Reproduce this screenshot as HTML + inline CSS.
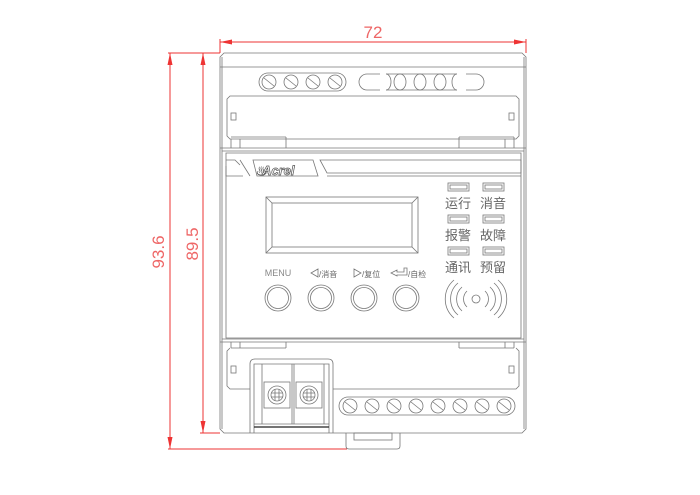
<!DOCTYPE html>
<html><head><meta charset="utf-8"><style>
html,body{margin:0;padding:0;background:#fff;width:700px;height:495px;overflow:hidden}
svg{display:block}
</style></head><body>
<svg width="700" height="495" viewBox="0 0 700 495" xmlns="http://www.w3.org/2000/svg" font-family="Liberation Sans, Noto Sans CJK SC, sans-serif">
<g stroke="#e33" stroke-width="1" fill="none">
  <line x1="220" y1="42" x2="526" y2="42"/>
  <line x1="220" y1="39" x2="220" y2="53"/>
  <line x1="526" y1="39" x2="526" y2="53"/>
  <line x1="168" y1="53" x2="220" y2="53"/>
  <line x1="168" y1="449" x2="347" y2="449"/>
  <line x1="200" y1="433" x2="220" y2="433"/>
  <line x1="170" y1="53" x2="170" y2="449"/>
  <line x1="203" y1="53" x2="203" y2="433"/>
</g>
<g fill="#e33">
  <polygon points="220,42 232,39.5 232,44.5"/>
  <polygon points="526,42 514,39.5 514,44.5"/>
  <polygon points="170,53 167.5,65 172.5,65"/>
  <polygon points="170,449 167.5,437 172.5,437"/>
  <polygon points="203,53 200.5,65 205.5,65"/>
  <polygon points="203,433 200.5,421 205.5,421"/>
</g>
<text x="373" y="38" fill="#e66" font-size="17" text-anchor="middle">72</text>
<text transform="translate(164,252) rotate(-90)" fill="#e66" font-size="17" text-anchor="middle">93.6</text>
<text transform="translate(198,244) rotate(-90)" fill="#e66" font-size="17" text-anchor="middle">89.5</text>

<g stroke="#777" stroke-width="0.8" fill="none">
  <path d="M224,53 H522 L526,57 V429 L522,433 H224 L220,429 V57 Z"/>
  <line x1="220" y1="67" x2="526" y2="67"/>
  <line x1="222" y1="57" x2="222" y2="429"/>
  <line x1="524" y1="57" x2="524" y2="429"/>
  <rect x="259" y="73" width="87" height="18" rx="9"/>
  <g>
    <circle cx="269" cy="82" r="7"/><line x1="264" y1="78" x2="274" y2="86"/>
    <circle cx="291" cy="82" r="7"/><line x1="286" y1="78" x2="296" y2="86"/>
    <circle cx="313" cy="82" r="7"/><line x1="308" y1="78" x2="318" y2="86"/>
    <circle cx="335" cy="82" r="7"/><line x1="330" y1="78" x2="340" y2="86"/>
  </g>
  <path d="M380,74 H367 A8,8 0 0 0 367,90 H380"/>
  <path d="M386,74 H457 M386,90 H457"/>
  <path d="M386,74 a5,8 0 0 1 0,16 M400,74 a6,8 0 0 0 0,16 M400,74 a6,8 0 0 1 0,16 M420,74 a6,8 0 0 0 0,16 M420,74 a6,8 0 0 1 0,16 M440,74 a6,8 0 0 0 0,16 M440,74 a6,8 0 0 1 0,16 M457,74 a5,8 0 0 0 0,16"/>
  <path d="M466,74 H476 A8,8 0 0 1 476,90 H466"/>
  <path d="M230,96 H516 L519,99 V136 L516,139 H230 L227,136 V99 Z"/>
  <rect x="231" y="113" width="5" height="7"/><rect x="509" y="113" width="5" height="7"/>
  <path d="M231,139 V148 M240,139 V148 M286,137 V148 M231,137 H286 M459,137 V148 M459,137 H514 M505,139 V148 M514,137 V148"/>
  <line x1="220" y1="148" x2="526" y2="148"/>
  <line x1="222" y1="151" x2="524" y2="151"/>
  <path d="M226,153 H521 V338 H226 Z"/>
  <path d="M226,160 H235 L240,165 M226,166 V176 H243 M240,160 L250,176 M253,160 H313 L318,176 H257 Z M320,160 H521 V173 H327 Z M327,176 H521"/>
  <rect x="266" y="197" width="152" height="56"/>
  <rect x="272" y="203" width="140" height="44"/>
  <path d="M266,197 L272,203 M418,197 L412,203 M266,253 L272,247 M418,253 L412,247"/>
  <circle cx="278" cy="298" r="13"/><circle cx="278" cy="298" r="10.5"/>
  <circle cx="321" cy="298" r="13"/><circle cx="321" cy="298" r="10.5"/>
  <circle cx="364" cy="298" r="13"/><circle cx="364" cy="298" r="10.5"/>
  <circle cx="406" cy="298" r="13"/><circle cx="406" cy="298" r="10.5"/>
  <path d="M311,273 L318,269 V277 Z M354,269 L361,273 L354,277 Z M391,273 L397,270 V272 H404 V268 H407 V275 H397 V276 Z"/>
  <rect x="448" y="183" width="21" height="8"/><rect x="450" y="185" width="17" height="4"/>
  <rect x="483" y="183" width="21" height="8"/><rect x="485" y="185" width="17" height="4"/>
  <rect x="448" y="215" width="21" height="8"/><rect x="450" y="217" width="17" height="4"/>
  <rect x="483" y="215" width="21" height="8"/><rect x="485" y="217" width="17" height="4"/>
  <rect x="448" y="247" width="21" height="8"/><rect x="450" y="249" width="17" height="4"/>
  <rect x="483" y="247" width="21" height="8"/><rect x="485" y="249" width="17" height="4"/>
  <circle cx="476" cy="299" r="4"/>
  <path d="M467,291 A11,11 0 0 0 467,307 M485,291 A11,11 0 0 1 485,307 M462,287 A16,16 0 0 0 462,311 M490,287 A16,16 0 0 1 490,311 M458,283 A21,21 0 0 0 458,315 M494,283 A21,21 0 0 1 494,315 M454,280 A25,25 0 0 0 454,318 M498,280 A25,25 0 0 1 498,318"/>
  <line x1="222" y1="339" x2="524" y2="339"/>
  <line x1="220" y1="342" x2="526" y2="342"/>
  <path d="M231,342 V348 M240,342 V348 M286,342 V348 M459,342 V348 M505,342 V348 M514,342 V348 M231,348 H286 M459,348 H514"/>
  <path d="M230,348 L227,351 V386 L230,389 H250 M516,348 L519,351 V386 L516,389 H333"/>
  <rect x="231" y="366" width="5" height="7"/><rect x="509" y="366" width="5" height="7"/>
  <path d="M250,433 V364 Q250,359 255,359 H328 Q333,359 333,364 V433"/>
  <path d="M254,433 V364 H329 V433"/>
  <path d="M262,364 V424 M292,364 V424 M294,364 V424 M324,364 V424 M254,424 H329"/>
  <rect x="264" y="382" width="26" height="26"/>
  <rect x="296" y="382" width="26" height="26"/>
  <circle cx="277" cy="395" r="9"/><circle cx="277" cy="395" r="6"/>
  <path d="M271,393 H283 M271,397 H283 M275,389 V401 M279,389 V401"/>
  <circle cx="309" cy="395" r="9"/><circle cx="309" cy="395" r="6"/>
  <path d="M303,393 H315 M303,397 H315 M307,389 V401 M311,389 V401"/>
  <line x1="254" y1="427" x2="329" y2="427" stroke="#222" stroke-width="1.2"/>
  <rect x="339" y="397" width="176" height="18" rx="9"/>
  <g>
    <circle cx="350" cy="406" r="7"/><line x1="345" y1="402" x2="355" y2="410"/>
    <circle cx="372" cy="406" r="7"/><line x1="367" y1="402" x2="377" y2="410"/>
    <circle cx="394" cy="406" r="7"/><line x1="389" y1="402" x2="399" y2="410"/>
    <circle cx="416" cy="406" r="7"/><line x1="411" y1="402" x2="421" y2="410"/>
    <circle cx="438" cy="406" r="7"/><line x1="433" y1="402" x2="443" y2="410"/>
    <circle cx="460" cy="406" r="7"/><line x1="455" y1="402" x2="465" y2="410"/>
    <circle cx="482" cy="406" r="7"/><line x1="477" y1="402" x2="487" y2="410"/>
    <circle cx="504" cy="406" r="7"/><line x1="499" y1="402" x2="509" y2="410"/>
  </g>
  <path d="M346,433 V446 Q346,449 349,449 H397 Q400,449 400,446 V433"/>
  <rect x="354" y="433" width="38" height="7"/>
</g>
<text x="262" y="175" font-size="13" font-style="italic" font-weight="bold" fill="#fff" stroke="#555" stroke-width="0.7">Acrel</text>
<text x="256" y="175" font-size="11" fill="#555">♨</text>
<g fill="#666" font-size="8">
  <text x="278" y="276" text-anchor="middle" font-size="9" fill="#888">MENU</text>
  <text x="319" y="277">/消音</text>
  <text x="362" y="277">/复位</text>
  <text x="408" y="277">/自检</text>
</g>
<g fill="#666" font-size="13" font-family="Liberation Sans, Noto Sans CJK SC, sans-serif">
  <text x="445" y="208">运行</text><text x="480" y="208">消音</text>
  <text x="445" y="240">报警</text><text x="480" y="240">故障</text>
  <text x="445" y="272">通讯</text><text x="480" y="272">预留</text>
</g>
</svg>
</body></html>
